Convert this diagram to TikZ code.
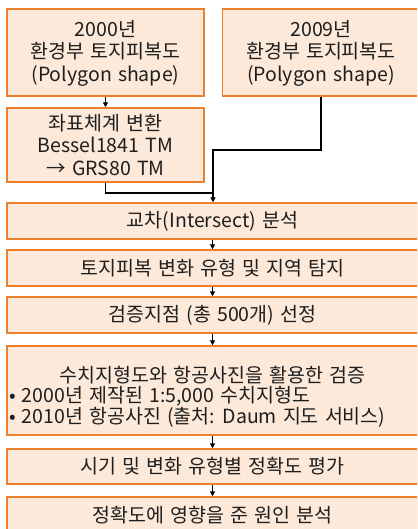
\documentclass[tikz,border=0pt]{standalone}
\usepackage{fontspec}
\setmainfont{Noto Sans CJK KR}[WordSpace=1.4]
\usetikzlibrary{arrows.meta}
\definecolor{boxfill}{HTML}{FCE9DA}
\definecolor{boxline}{HTML}{EE7F2D}
\definecolor{txt}{HTML}{1E1E1E}
\tikzset{
  flowbox/.style={draw=boxline, fill=boxfill, line width=1.4pt, rectangle, inner sep=0pt,
    align=center, text=txt, font=\fontsize{19.5}{22.5}\selectfont},
  bodytext/.style={text=txt, font=\fontsize{19.5}{21.5}\selectfont, inner sep=0pt},
  conn/.style={draw=black, line width=1.4pt},
  arr/.style={conn, -{Triangle[length=5pt,width=5pt]}}
}
\begin{document}
\begin{tikzpicture}[x=1pt,y=-1pt]
\useasboundingbox (0,0) rectangle (417,529);
\clip (0,0) rectangle (417,529);
\node[flowbox, minimum width=197pt, minimum height=87pt, text depth=4pt] (b1) at (105.5,52.5) {2000년\\환경부 토지피복도\\(Polygon shape)};
\node[flowbox, minimum width=197pt, minimum height=87pt, text depth=4pt] (b2) at (321,52.5) {2009년\\환경부 토지피복도\\(Polygon shape)};
\node[flowbox, minimum width=197pt, minimum height=74pt] (b3) at (105.5,145) {좌표체계 변환\\Bessel1841 TM\\→ GRS80 TM};
\node[flowbox, minimum width=411pt, minimum height=36pt] (b4) at (212.5,221) {교차(Intersect) 분석};
\node[flowbox, minimum width=411pt, minimum height=36pt] (b5) at (212.5,268) {토지피복 변화 유형 및 지역 탐지};
\node[flowbox, minimum width=411pt, minimum height=36pt] (b6) at (212.5,315) {검증지점 (총 500개) 선정};
\node[flowbox, minimum width=411pt, minimum height=89pt] (b7) at (212.5,390.5) {};
\node[bodytext, anchor=center] (b7t1) at (212.5,375) {수치지형도와 항공사진을 활용한 검증};
\node[bodytext, anchor=west] (b7t2) at (9,396) {• 2000년 제작된 1:5,000 수치지형도};
\node[bodytext, anchor=west] (b7t3) at (9,417) {• 2010년 항공사진 (출처: Daum 지도 서비스)};
\node[flowbox, minimum width=411pt, minimum height=35pt] (b8) at (212.5,466.5) {시기 및 변화 유형별 정확도 평가};
\node[flowbox, minimum width=411pt, minimum height=36pt] (b9) at (212.5,515) {정확도에 영향을 준 원인 분석};
\coordinate (j) at (213,150);
\coordinate (m) at (213,193);
\draw[arr] (b1.south) -- (b3.north);
\draw[conn] (b3.south) |- (m);
\draw[arr] (b2.south) |- (j) -- (b4.north -| j);
\draw[arr] (b4.south) -- (b5.north);
\draw[arr] (b5.south) -- (b6.north);
\draw[arr] (b6.south) -- (b7.north);
\draw[arr] (b7.south) -- (b8.north);
\draw[arr] (b8.south) -- (b9.north);
\end{tikzpicture}
\end{document}
